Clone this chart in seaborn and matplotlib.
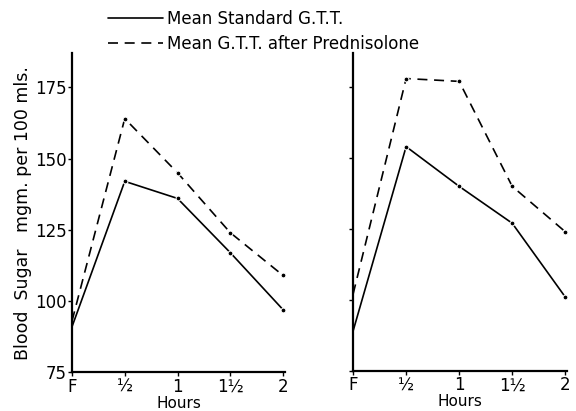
import pandas as pd
import matplotlib.pyplot as plt
import seaborn as sns
from matplotlib.lines import Line2D

# Data (blood sugar, mgm. per 100 mls.)
hours = [0, 0.5, 1, 1.5, 2]
hour_labels = ["F", "½", "1", "1½", "2"]
left_standard = [91, 142, 136, 117, 97]
left_prednisolone = [93, 164, 145, 124, 109]
right_standard = [89, 154, 140, 127, 101]
right_prednisolone = [102, 178, 177, 140, 124]
y_ticks = [75, 100, 125, 150, 175]

sns.set_style("white")
plt.rcParams['font.family'] = ['DejaVu Sans']
plt.rcParams['text.color'] = 'black'
plt.rcParams['axes.labelcolor'] = 'black'
plt.rcParams['xtick.color'] = 'black'
plt.rcParams['ytick.color'] = 'black'

fig = plt.figure(figsize=(5.76, 4.11), dpi=100)
ax1 = fig.add_axes([0.125, 0.094, 0.370, 0.777])
ax2 = fig.add_axes([0.613, 0.098, 0.372, 0.773])

dash = (6, 4)
for ax, std, pred in [(ax1, left_standard, left_prednisolone),
                      (ax2, right_standard, right_prednisolone)]:
    df = pd.DataFrame({'hours': hours, 'std': std, 'pred': pred})
    sns.lineplot(data=df, x='hours', y='std', ax=ax, color='black', lw=1.2,
                 marker='o', ms=3.5, markevery=[1, 2, 3, 4])
    sns.lineplot(data=df, x='hours', y='pred', ax=ax, color='black', lw=1.2,
                 marker='o', ms=3.5, markevery=[1, 2, 3, 4])
    ax.lines[-1].set_linestyle((0, dash))
    ax.set_xlim(0, 2.02)
    ax.set_ylim(75, 187)
    ax.set_xticks(hours)
    ax.set_xticklabels(hour_labels, fontsize=12)
    ax.set_yticks(y_ticks)
    for s in ['top', 'right']:
        ax.spines[s].set_visible(False)
    for s in ['left', 'bottom']:
        ax.spines[s].set_linewidth(1.6)
        ax.spines[s].set_color('black')
    ax.tick_params(axis='both', length=3, width=1, direction='out', pad=1,
                   bottom=True, left=True)
    ax.set_xlabel('Hours', fontsize=11, labelpad=0)
    ax.set_ylabel('')

ax1.set_yticklabels([str(t) for t in y_ticks], fontsize=12)
ax2.set_yticklabels([])
ax1.set_ylabel('Blood  Sugar   mgm. per 100 mls.', fontsize=12.5, labelpad=2)

handles = [Line2D([], [], color='black', lw=1.2),
           Line2D([], [], color='black', lw=1.2, linestyle=(0, dash))]
labels = ['Mean Standard G.T.T.', 'Mean G.T.T. after Prednisolone']
fig.legend(handles, labels, loc='upper left', bbox_to_anchor=(0.17, 1.0),
           frameon=False, fontsize=12, handlelength=3.3, handletextpad=0.25,
           labelspacing=0.4, borderaxespad=0.2)

fig.savefig('out.png', dpi=100)
